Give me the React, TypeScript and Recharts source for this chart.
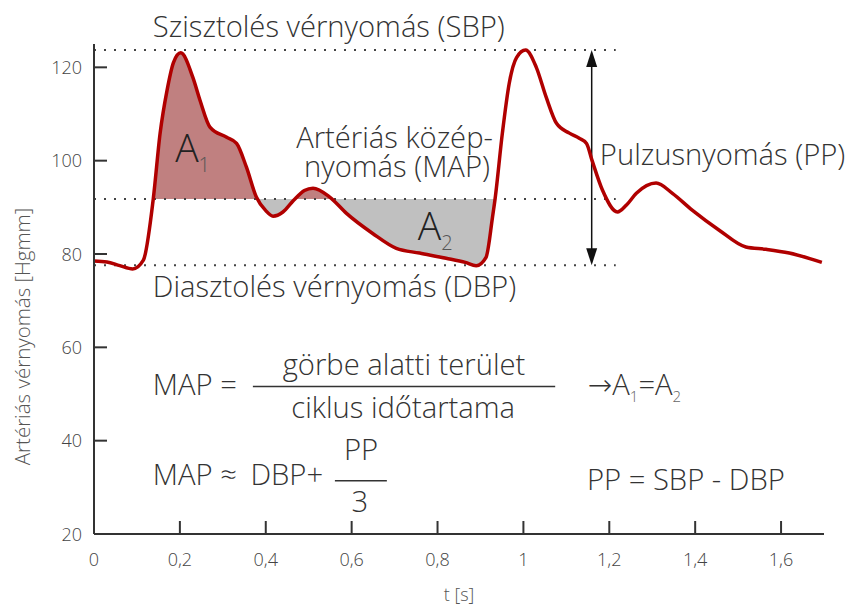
import { ComposedChart, Line, Area, XAxis, YAxis, ReferenceLine, ReferenceDot } from "recharts"

// time [s] and arterial pressure [Hgmm]
const TIME = [0, 0.03, 0.06, 0.09, 0.115, 0.138, 0.154, 0.17, 0.185, 0.202, 0.23, 0.247, 0.27, 0.309, 0.332, 0.355, 0.378, 0.4, 0.417, 0.44, 0.465, 0.49, 0.51, 0.549, 0.588, 0.649, 0.704, 0.758, 0.82, 0.865, 0.89, 0.913, 0.928, 0.934, 0.951, 0.967, 0.984, 1.005, 1.03, 1.053, 1.077, 1.107, 1.13, 1.147, 1.16, 1.184, 1.219, 1.24, 1.263, 1.309, 1.347, 1.393, 1.456, 1.518, 1.565, 1.619, 1.695]
const PRESSURE = [78.5, 78.3, 77.5, 76.8, 78.7, 91.8, 105.9, 115, 121, 123.1, 117.9, 112.9, 107.2, 105, 103.7, 98.6, 92.2, 89.3, 88.1, 89, 91.5, 93.6, 94.1, 92.2, 88.7, 84.4, 81.2, 80.2, 79.1, 78.2, 77.5, 79.3, 87.9, 91.8, 105.9, 116.6, 122.1, 123.7, 120, 113.6, 108, 105.9, 104.8, 103.7, 100, 93.7, 89, 90.5, 93, 95.2, 93, 89.4, 85.1, 81.5, 81, 80.2, 78.2]

const SBP = 123.7
const MAP = 91.8
const DBP = 77.6
const CYCLE_START = 0.138
const CYCLE_END = 0.934
const LEVEL_END = 1.215
const PP_AT = 1.159

const X_TICKS = [0, 0.2, 0.4, 0.6, 0.8, 1, 1.2, 1.4, 1.6]
const Y_TICKS = [20, 40, 60, 80, 100, 120]

const data = TIME.map((t, i) => ({
  t,
  bp: PRESSURE[i],
  cycle: t >= CYCLE_START && t <= CYCLE_END ? PRESSURE[i] : null,
}))

// split colour of the fill exactly at MAP (gradient runs over the area's bounding box)
const cycleVals = data.filter((d) => d.cycle !== null).map((d) => d.cycle as number)
const cMax = Math.max(...cycleVals, MAP)
const cMin = Math.min(...cycleVals, MAP)
const splitAt = (cMax - MAP) / (cMax - cMin)

const FONT = "'Open Sans', 'DejaVu Sans', sans-serif"
const INK = "#333"
const BIG = 29.2

function XTick({ x, y, payload }: any) {
  return (
    <g>
      <line x1={x} y1={y} x2={x} y2={y - 13} stroke={INK} strokeWidth={2} />
      <text x={x} y={y + 32} textAnchor="middle" fontSize={18} fill="#444">
        {String(payload.value).replace(".", ",")}
      </text>
    </g>
  )
}

function YTick({ x, y, payload }: any) {
  return (
    <g>
      <line x1={x} y1={y} x2={x + 13} y2={y} stroke={INK} strokeWidth={2} />
      <text x={x - 12} y={y} dy={6.5} textAnchor="end" fontSize={18} fill="#444">
        {payload.value}
      </text>
    </g>
  )
}

const note = (key: string, x: number, y: number, content: any, anchor: "start" | "middle" | "end" = "start", size = BIG) => (
  <ReferenceDot
    key={key}
    x={x}
    y={y}
    r={0}
    ifOverflow="visible"
    shape={(p: any) => (
      <text x={p.cx} y={p.cy} textAnchor={anchor} fontSize={size} fill={INK}>
        {content}
      </text>
    )}
  />
)

function PPArrow(p: any) {
  const x = p.x1
  const top = Math.min(p.y1, p.y2)
  const bot = Math.max(p.y1, p.y2)
  return (
    <g>
      <line x1={x} y1={top + 10} x2={x} y2={bot - 10} stroke="#111" strokeWidth={1.5} />
      <polygon points={`${x},${top} ${x - 5.5},${top + 17} ${x + 5.5},${top + 17}`} fill="#111" />
      <polygon points={`${x},${bot} ${x - 5.5},${bot - 17} ${x + 5.5},${bot - 17}`} fill="#111" />
    </g>
  )
}

export default function App() {
  return (
    <div style={{ position: "absolute", left: 0, top: 0, fontFamily: FONT, fontWeight: 300 }}>
      <ComposedChart width={848} height={607} data={data} margin={{ top: 44, right: 24, bottom: 0, left: 0 }}>
        <defs>
          <linearGradient id="mapFill" x1="0" y1="0" x2="0" y2="1">
            <stop offset={splitAt} stopColor="#c08080" />
            <stop offset={splitAt} stopColor="#c0c0c0" />
          </linearGradient>
        </defs>
        <XAxis
          dataKey="t"
          type="number"
          domain={[0, 1.7]}
          ticks={X_TICKS}
          height={73}
          tickSize={0}
          tickMargin={0}
          tickLine={false}
          axisLine={{ stroke: INK, strokeWidth: 2 }}
          tick={<XTick />}
          label={{
            content: ({ viewBox }: any) => (
              <text x={viewBox.x + viewBox.width / 2} y={viewBox.y + 67} textAnchor="middle" fontSize={18} fill="#555">
                t [s]
              </text>
            ),
          }}
        />
        <YAxis
          type="number"
          domain={[20, 125]}
          ticks={Y_TICKS}
          width={94}
          tickSize={0}
          tickMargin={0}
          tickLine={false}
          axisLine={{ stroke: INK, strokeWidth: 2 }}
          tick={<YTick />}
          label={{
            content: ({ viewBox }: any) => {
              const cx = viewBox.x + 22
              const cy = viewBox.y + viewBox.height * 0.597
              return (
                <text x={cx} y={cy} transform={`rotate(-90 ${cx} ${cy})`} textAnchor="middle" dominantBaseline="central" fontSize={20.5} fill="#555">
                  Artériás vérnyomás [Hgmm]
                </text>
              )
            },
          }}
        />
        <Area
          dataKey="cycle"
          type="monotone"
          baseValue={MAP}
          fill="url(#mapFill)"
          fillOpacity={1}
          stroke="none"
          isAnimationActive={false}
        />
        <ReferenceLine segment={[{ x: 0, y: SBP }, { x: LEVEL_END, y: SBP }]} stroke="#444" strokeWidth={2} strokeDasharray="2 8" />
        <ReferenceLine segment={[{ x: 0, y: MAP }, { x: LEVEL_END, y: MAP }]} stroke="#444" strokeWidth={2} strokeDasharray="2 8" />
        <ReferenceLine segment={[{ x: 0, y: DBP }, { x: LEVEL_END, y: DBP }]} stroke="#444" strokeWidth={2} strokeDasharray="2 8" />
        <ReferenceLine segment={[{ x: PP_AT, y: DBP }, { x: PP_AT, y: SBP }]} shape={<PPArrow />} />
        <Line dataKey="bp" type="monotone" stroke="#b00000" strokeWidth={3.5} dot={false} isAnimationActive={false} />

        {/* fraction bars */}
        <ReferenceLine segment={[{ x: 0.37, y: 51.6 }, { x: 1.074, y: 51.6 }]} stroke={INK} strokeWidth={1.5} />
        <ReferenceLine segment={[{ x: 0.561, y: 31.4 }, { x: 0.682, y: 31.4 }]} stroke={INK} strokeWidth={1.5} />

        {note("sbp", 0.137, 126.5, "Szisztolés vérnyomás (SBP)")}
        {note("dbp", 0.137, 70.8, "Diasztolés vérnyomás (DBP)")}
        {note("map1", 0.929, 102.7, "Artériás közép-", "end")}
        {note("map2", 0.922, 96.5, "nyomás (MAP)", "end")}
        {note("pp", 1.178, 99.1, "Pulzusnyomás (PP)")}
        {note(
          "a1",
          0.189,
          99.7,
          <>
            <tspan fontSize={39} fill="#222">A</tspan>
            <tspan fontSize={20} dy={10} fill="#555">1</tspan>
          </>
        )}
        {note(
          "a2",
          0.754,
          83,
          <>
            <tspan fontSize={39} fill="#222">A</tspan>
            <tspan fontSize={20} dy={10} fill="#555">2</tspan>
          </>
        )}
        {note("mapEq", 0.137, 49.8, "MAP =")}
        {note("num", 0.722, 54.1, "görbe alatti terület", "middle")}
        {note("den", 0.72, 44.9, "ciklus időtartama", "middle")}
        {note(
          "aeq",
          1.15,
          49.8,
          <>
            <tspan>→A</tspan>
            <tspan fontSize={15} dy={7} fill="#666">1</tspan>
            <tspan dy={-7}>=A</tspan>
            <tspan fontSize={15} dy={7} fill="#666">2</tspan>
          </>
        )}
        {note(
          "mapApprox",
          0.137,
          30.5,
          <>
            <tspan>{"MAP ≈"}</tspan>
            <tspan dx={6}>{" DBP+"}</tspan>
          </>
        )}
        {note("ppNum", 0.622, 35.9, "PP", "middle")}
        {note("three", 0.619, 24.7, "3", "middle")}
        {note("ppEq", 1.148, 29.4, "PP = SBP - DBP")}
      </ComposedChart>
    </div>
  )
}
